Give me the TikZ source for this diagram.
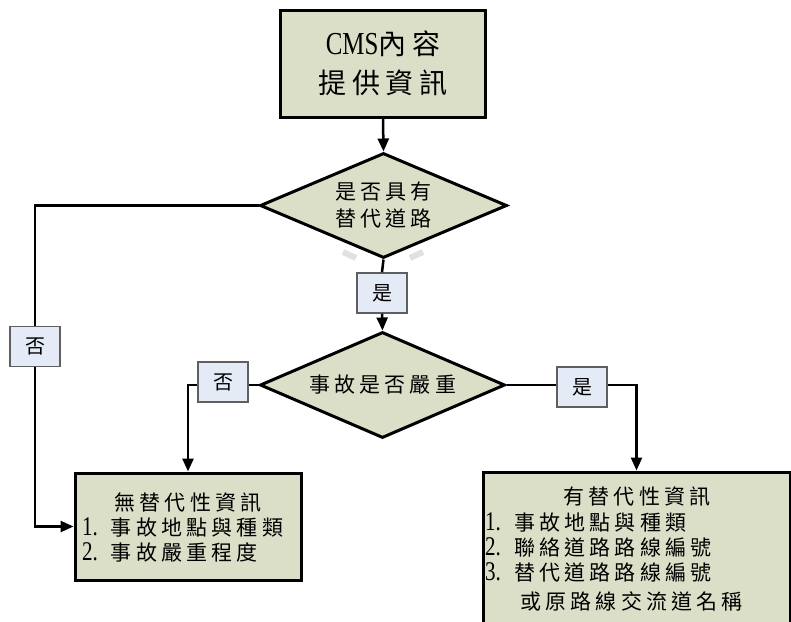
\documentclass[tikz,border=0pt]{standalone}
\usepackage{fontspec}
\setmainfont{Liberation Serif}
\newfontfamily\cjk[LetterSpace=20]{Noto Sans CJK TC}
\usetikzlibrary{shapes.geometric,arrows.meta}
\definecolor{boxfill}{RGB}{220,223,200}
\definecolor{tagfill}{RGB}{228,234,246}
\definecolor{tagline}{RGB}{95,95,95}
\definecolor{shadowgray}{RGB}{225,225,225}
% narrow, tall Latin glyphs next to the CJK text
\newcommand{\narrowlat}[2]{{\fontsize{#1}{#1}\selectfont\scalebox{0.78}[1]{#2}}}

\begin{document}
\begin{tikzpicture}[x=1pt,y=-1pt,
  procbox/.style={rectangle, draw=black, line width=3pt, fill=boxfill, inner sep=0pt},
  decide/.style={diamond, draw=black, line width=3pt, fill=boxfill, inner sep=0pt},
  tag/.style={rectangle, draw=tagline, line width=1.5pt, fill=tagfill, inner sep=0pt,
              minimum width=50pt, minimum height=40pt, font=\fontsize{20}{24}\selectfont\cjk},
  txt/.style={inner sep=0pt, font=\fontsize{21}{27}\selectfont},
  flow/.style={line width=2.5pt, draw=black},
  arr/.style={flow, -{Triangle[length=13pt,width=11pt]}}]

\useasboundingbox (0,0) rectangle (791,621);
\clip (0,0) rectangle (791,621);

% start box
\node[procbox, minimum width=205pt, minimum height=107pt] (top) at (383,63.5) {};
\node[txt, align=center, font=\fontsize{28}{39}\selectfont] (toptxt) at (top.center)
  {\narrowlat{32}{CMS}{\cjk 內容}\\{\cjk 提供資訊}};

% soft shadow under the first decision
\draw[color=shadowgray, line width=6pt] (343,252) -- (356,258);
\draw[color=shadowgray, line width=6pt] (410,258) -- (423,252);

% decisions
\node[decide, minimum width=247pt, minimum height=105pt] (d1) at (383.5,205.5) {};
\node[txt, align=center] (d1txt) at (d1.center) {\cjk 是否具有\\\cjk 替代道路};

\node[decide, minimum width=245pt, minimum height=106pt] (d2) at (382.5,385) {};
\node[txt] (d2txt) at (d2.center) {\cjk 事故是否嚴重};

% result boxes
\node[procbox, minimum width=226pt, minimum height=107pt] (lb) at (188,526.5) {};
\node[txt] (lbh) at (188,502) {\cjk 無替代性資訊};
\node[txt, anchor=west] (lb1) at (82,527) {\narrowlat{27}{1.}\hspace{13pt}{\cjk 事故地點與種類}};
\node[txt, anchor=west] (lb2) at (82,552) {\narrowlat{27}{2.}\hspace{13pt}{\cjk 事故嚴重程度}};

\node[procbox, minimum width=307pt, minimum height=168pt] (rb) at (636.5,556) {};
\node[txt] (rbh) at (637,497) {\cjk 有替代性資訊};
\node[txt, anchor=west] (rb1) at (485,522) {\narrowlat{27}{1.}\hspace{13pt}{\cjk 事故地點與種類}};
\node[txt, anchor=west] (rb2) at (485,547) {\narrowlat{27}{2.}\hspace{13pt}{\cjk 聯絡道路路線編號}};
\node[txt, anchor=west] (rb3) at (485,572) {\narrowlat{27}{3.}\hspace{13pt}{\cjk 替代道路路線編號}};
\node[txt, anchor=west] (rb4) at (520,601) {\cjk 或原路線交流道名稱};

% branch tags
\node[tag] (yes1) at (382,293) {是};
\node[tag] (no1) at (35,346.5) {否};
\node[tag] (no2) at (223,382) {否};
\node[tag] (yes2) at (582,387) {是};

% connectors
\draw[arr] (top.south) -- (d1.north);
\draw[flow] (d1.south) -- (yes1.north);
\draw[arr] (yes1.south) -- (d2.north);

\draw[flow] (d1.west) -| (no1.north);
\draw[arr] (no1.south) |- (lb.west);

\draw[flow] (d2.west) -- (d2.west -| no2.east);
\draw[arr] (no2.west |- d2.west) -| (lb.north);

\draw[flow] (d2.east) -- (d2.east -| yes2.west);
\draw[arr] (yes2.east |- d2.east) -| (rb.north);
\end{tikzpicture}
\end{document}
